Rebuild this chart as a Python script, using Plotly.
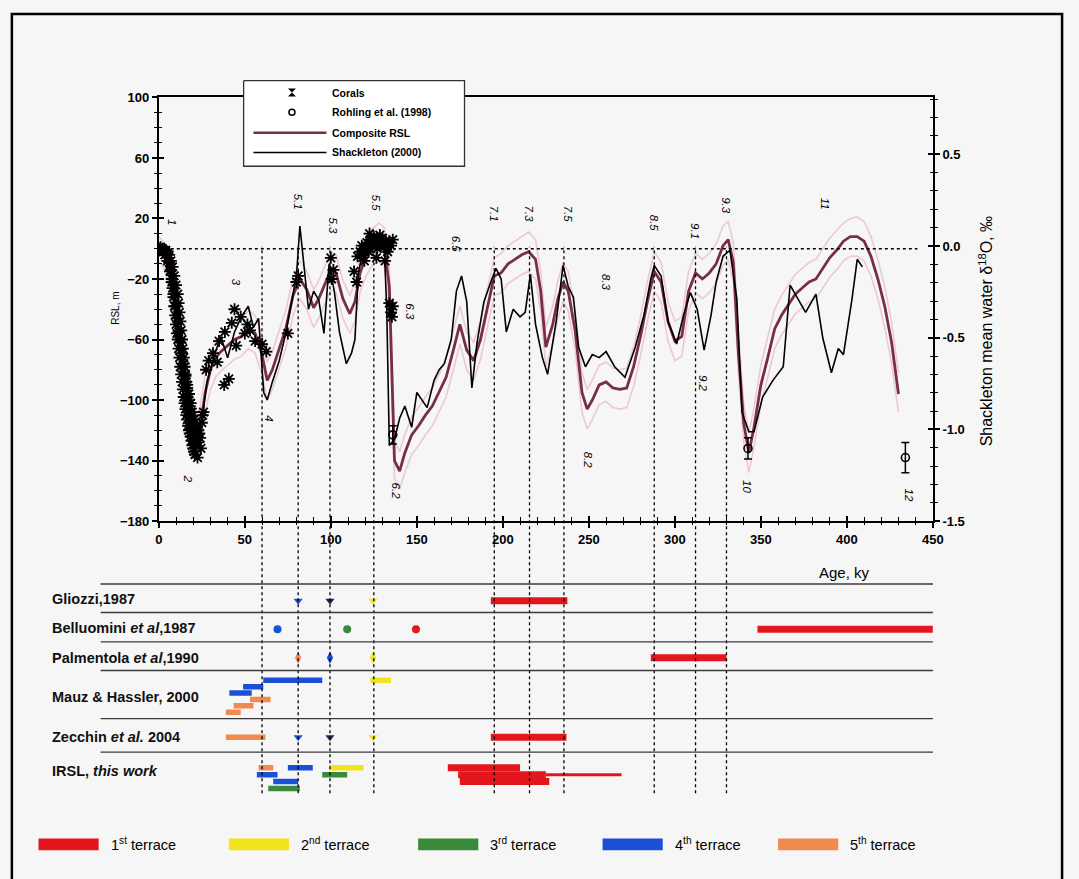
import plotly.graph_objects as go

W, H = 1079, 879
FONT = "Liberation Sans, Arial, sans-serif"


def px(x):
    return x / W


def py(y):
    return 1 - y / H


# ---------------- DATA ----------------
# Composite RSL (m) with its envelope
comp_age = [0, 3, 6, 9, 12, 15, 18, 21, 24, 27, 30, 33, 36, 40, 44, 48, 52, 56, 60, 63,
            66, 70, 74, 78, 82, 86, 90, 93, 97, 100, 103, 107, 111, 114, 117, 120, 124, 128, 131, 134,
            137, 140, 143, 147, 151, 155, 159, 163, 167, 171, 175, 179, 183, 187, 191, 195, 199, 203, 207, 211,
            215, 219, 222, 225, 229, 232, 235, 238, 242, 246, 249, 252, 256, 260, 264, 268, 272, 276, 280, 284,
            288, 292, 296, 300, 304, 308, 312, 316, 320, 324, 328, 331, 334, 337, 340, 343, 346, 350, 354, 358,
            362, 366, 370, 374, 378, 382, 386, 390, 394, 398, 402, 406, 410, 414, 418, 422, 426, 430]
comp_rsl = [0, -4, -14, -35, -60, -88, -110, -122, -118, -95, -80, -72, -68, -64, -60, -58, -53, -56, -70, -87,
            -80, -66, -52, -31, -20, -27, -39, -33, -22, -14, -16, -33, -43, -35, -16, -6, 2, 5, 2, -25,
            -140, -147, -135, -123, -117, -110, -104, -95, -85, -68, -50, -67, -74, -60, -40, -18, -16, -10, -7, -4,
            -2, -7, -28, -65, -50, -33, -22, -28, -54, -95, -106, -100, -90, -88, -92, -93, -92, -78, -58, -35,
            -15, -22, -48, -61, -58, -28, -16, -20, -16, -10, 2, 6, -9, -70, -115, -135, -118, -90, -72, -53,
            -44, -37, -30, -26, -22, -20, -13, -6, -1, 5, 8, 8, 5, -5, -20, -38, -62, -96]
comp_hi = [8, 4, -4, -24, -49, -77, -99, -111, -105, -83, -69, -61, -56, -53, -48, -46, -41, -44, -57, -75,
           -68, -54, -40, -19, -8, -15, -27, -21, -10, -2, -4, -21, -31, -23, -4, 6, 13, 17, 14, -12,
           -127, -134, -123, -111, -105, -98, -92, -83, -72, -55, -38, -55, -62, -48, -28, -6, -3, 2, 5, 8,
           11, 6, -15, -52, -38, -21, -9, -15, -41, -82, -93, -87, -77, -75, -79, -80, -79, -65, -45, -22,
           -2, -9, -35, -48, -45, -15, -3, -7, -3, 3, 15, 18, 4, -57, -102, -122, -105, -77, -59, -40,
           -31, -24, -17, -13, -9, -7, 0, 7, 12, 17, 20, 21, 18, 8, -7, -25, -49, -82]
comp_lo = [-8, -13, -25, -47, -72, -100, -122, -134, -131, -108, -93, -85, -81, -77, -73, -71, -66, -69, -83, -100,
           -93, -79, -65, -44, -33, -40, -52, -46, -35, -27, -29, -46, -56, -48, -29, -19, -11, -8, -11, -38,
           -152, -159, -148, -136, -130, -123, -117, -108, -98, -81, -63, -80, -87, -73, -53, -31, -29, -23, -20, -17,
           -15, -20, -41, -78, -63, -46, -35, -41, -67, -108, -119, -113, -103, -101, -105, -106, -105, -91, -71, -48,
           -28, -35, -61, -74, -71, -41, -29, -33, -29, -23, -11, -7, -22, -83, -128, -148, -131, -103, -85, -66,
           -57, -50, -43, -39, -35, -33, -26, -19, -14, -8, -5, -5, -8, -18, -33, -52, -76, -108]

# Shackleton (2000) mean water d18O, expressed on the RSL scale (m)
shack_age = [0, 3, 6, 9, 12, 15, 18, 20, 22, 24, 26, 28, 30, 33, 36, 40, 44, 48, 52, 55,
             58, 61, 63, 66, 70, 74, 78, 80, 82, 84, 87, 90, 93, 96, 99, 102, 105, 109, 112, 114,
             116, 118, 121, 125, 129, 131, 132.5, 134, 137, 140, 143, 147, 150, 153, 156, 160, 163, 166, 170, 173,
             176, 179, 182, 185, 189, 193, 196, 199, 202, 206, 210, 213, 216, 219, 223, 226, 231, 235, 238, 241,
             244, 248, 252, 256, 260, 265, 271, 277, 282, 286, 288, 292, 296, 301, 305, 309, 313, 317, 321, 324,
             328, 332, 336, 339, 343, 346, 351, 357, 363, 367, 370, 376, 382, 386, 391, 395, 398, 403, 406, 409]
shack_rsl = [0, -3, -10, -30, -58, -88, -115, -125, -130, -122, -105, -88, -80, -68, -58, -72, -55, -45, -38, -52,
             -46, -95, -100, -88, -74, -55, -30, -18, 15, -8, -40, -28, -34, -56, -10, -28, -55, -76, -69, -60,
             -16, -5, 0, 6, 5, 2, -40, -130, -126, -112, -104, -118, -95, -100, -105, -87, -80, -76, -60, -28,
             -18, -35, -92, -62, -35, -22, -13, -20, -55, -40, -45, -42, -17, -50, -72, -83, -48, -11, -25, -32,
             -65, -78, -70, -72, -68, -78, -85, -65, -44, -20, -11, -18, -48, -63, -44, -29, -40, -67, -44, -22,
             -5, -1, -33, -108, -121, -121, -98, -87, -78, -24, -30, -42, -30, -59, -82, -66, -70, -33, -7, -12]

# Corals
coral_age = [0.5, 1, 1.5, 2, 3, 4, 5, 5.5, 6, 7, 7.5, 8, 8.5, 9, 9.5, 10, 10.5, 11, 11.5, 12,
             12.5, 13, 13.5, 14, 14.5, 15, 15.5, 16, 16.5, 17, 17.5, 18, 18.5, 19, 19.5, 20, 20.5, 21, 21.5, 22,
             22.5, 23,
             4, 6, 7, 8, 9, 10, 11, 11.5, 12, 12.5, 13, 13.5, 14, 14.5, 15, 15.5, 16, 16.5, 17, 17.5,
             18, 18.5, 19, 19.5, 20, 20.5, 21, 22, 23, 24, 25, 26, 24.5, 22.5,
             2.5, 3.5, 5, 6.5, 7.5, 8.5, 9.5, 10.5, 11.5, 12.5, 13.5, 14.5, 15.5, 16.5, 17.5, 18.5, 19.5, 20.5,
             21.5, 23.5, 25.5,
             27.5, 31.5, 35, 38.4, 40.7, 42.4, 45, 47.6, 50, 53, 56, 60, 62.5, 44, 34, 38, 29, 51.5,
             80, 81, 75, 100, 101.5, 100.5,
             113.5, 115, 115.5, 117, 118, 119, 120, 121, 122, 123, 124, 125, 126, 127, 128, 129, 130, 131, 132, 133,
             134, 135, 136, 119.5, 126.5, 131.5, 122.5, 128.5,
             134, 135, 136, 135.5]
coral_rsl = [0, 1, -1, 0, -1, -2, -3, -6, -9, -14, -20, -26, -32, -38, -44, -50, -56, -60, -66, -72,
             -78, -83, -88, -93, -98, -102, -106, -110, -113, -117, -120, -122, -124, -127, -130, -132, -134, -136, -130, -126,
             -124, -120,
             -1, -4, -8, -12, -18, -24, -30, -36, -42, -48, -54, -60, -66, -72, -78, -84, -88, -92, -96, -100,
             -104, -108, -111, -114, -117, -120, -123, -126, -128, -125, -115, -108, -132, -138,
             -2, -4, -8, -15, -22, -30, -38, -46, -55, -62, -69, -76, -83, -90, -96, -102, -108, -113,
             -118, -122, -110,
             -80, -69, -61, -55, -86, -49, -64, -45, -56, -54, -61, -63, -68, -40, -75, -90, -74, -50,
             -22, -18, -56, -6, -14, -20,
             -15, -22, -5, -2, 2, -4, 0, 4, -2, 6, 2, 8, 4, 0, 6, 3, 7, 1, 5, -2,
             4, 2, 6, -8, -6, -8, 10, 9,
             -36, -42, -38, -45]

# Rohling et al. (1998)
rohling_age = [136, 342.5, 434]
rohling_rsl = [-123, -132, -138]
rohling_err = [6, 7, 10]

# Marine isotope stages
mis_lines = [60, 81, 99.5, 125, 195, 215.5, 235.5, 288, 312, 330]
mis_text = ["1", "2", "3", "4", "5.1", "5.3", "5.5", "6.2", "6.3", "6.5", "7.1", "7.3", "7.5",
            "8.2", "8.3", "8.5", "9.1", "9.2", "9.3", "10", "11", "12"]
mis_age = [8, 17, 45, 64, 81, 101, 126, 138, 146, 172.5, 195, 215.5, 238,
           250, 260, 288, 312, 316, 330, 341.5, 387, 436]
mis_rsl = [18, -152, -22, -112, 31, 15, 30, -160, -42, 3, 23, 23, 23,
           -140, -22, 17, 12, -89, 28.5, -157, 30, -163]

# Lower panel: terrace ages from the literature
studies = ["Gliozzi,1987", "Belluomini <i>et al</i>,1987", "Palmentola <i>et al</i>,1990",
           "Mauz & Hassler, 2000", "Zecchin <i>et al.</i> 2004", "IRSL, <i>this work</i>"]
terraces = ["1<sup>st</sup> terrace", "2<sup>nd</sup> terrace", "3<sup>rd</sup> terrace",
            "4<sup>th</sup> terrace", "5<sup>th</sup> terrace"]

bar_study = [0, 1, 2, 3, 3, 3, 3, 3, 3, 3, 4, 4, 5, 5, 5, 5, 5, 5, 5, 5, 5, 5, 5]
bar_lane = [0, 0, 0, 0, 1, 2, 3, 4, 5, 0, 0, 0, 0, 0, 0, 1, 1, 2, 3, 0, 1, 1, 2]
bar_start = [193, 348, 286, 60.7, 49, 41, 53, 43.5, 39, 123, 39, 193, 58, 75, 99, 95, 57, 66.5, 63.6, 168, 174, 225, 175]
bar_end = [237.5, 450, 330, 95, 60.7, 54, 65, 55, 47.6, 135, 62, 237, 66.5, 89.5, 119, 109.5, 69, 81, 82, 210, 225, 269, 227]
bar_terrace = [1, 1, 1, 4, 4, 4, 5, 5, 5, 2, 5, 1, 5, 4, 2, 3, 4, 4, 3, 1, 1, 1, 1]
bar_thin = [21]

mark_study = [0, 0, 0, 1, 1, 1, 2, 2, 2, 4, 4, 4]
mark_age = [81, 99.5, 124.5, 69, 109.5, 149.5, 81, 99.5, 124.5, 81, 99.5, 124.5]
mark_terrace = [4, 0, 2, 4, 3, 1, 5, 4, 2, 4, 0, 2]

# ---------------- STYLE / LAYOUT ----------------
terrace_colors = {0: "#1d2b55", 1: "#e3161e", 2: "#f2e41c", 3: "#3b8a3b", 4: "#1b4fd8", 5: "#f08a4e"}
MAROON = "#7a2e46"
ENV = "#ecc9d2"

row_base = [604, 633, 662, 685, 743, 774]
lane_step = [0, 0, 0, 6.5, 0, 7]
row_lines = [587, 616, 646, 675, 724, 758]
row_label_y = [602, 632, 662, 702, 743, 777]
mark_symbol = {0: "triangle-down", 1: "circle", 2: "diamond-tall", 4: "triangle-down"}

fig = go.Figure()

# envelope + composite + Shackleton
fig.add_trace(go.Scatter(x=comp_age, y=comp_hi, mode="lines", line=dict(color=ENV, width=1.6),
                         showlegend=False, hoverinfo="skip"))
fig.add_trace(go.Scatter(x=comp_age, y=comp_lo, mode="lines", line=dict(color=ENV, width=1.6),
                         showlegend=False, hoverinfo="skip"))
fig.add_trace(go.Scatter(x=comp_age, y=comp_rsl, mode="lines", line=dict(color=MAROON, width=2.8),
                         showlegend=False))
fig.add_trace(go.Scatter(x=shack_age, y=shack_rsl, mode="lines", line=dict(color="black", width=1.6),
                         showlegend=False))
fig.add_trace(go.Scatter(x=coral_age, y=coral_rsl, mode="markers",
                         marker=dict(symbol="asterisk-open", size=10, color="black",
                                     line=dict(color="black", width=1.8)),
                         showlegend=False))
fig.add_trace(go.Scatter(x=rohling_age, y=rohling_rsl, mode="markers",
                         marker=dict(symbol="circle-open", size=8, color="black",
                                     line=dict(color="black", width=1.6)),
                         error_y=dict(type="data", array=rohling_err, color="black", thickness=1.5, width=4),
                         showlegend=False))

# dummy traces for overlay axes
for xa, ya in [("x", "y2"), ("x3", "y"), ("x", "y4"), ("x", "y5")]:
    fig.add_trace(go.Scatter(x=[None], y=[None], xaxis=xa, yaxis=ya, showlegend=False, hoverinfo="skip"))

# lower panel bars
for i in range(len(bar_start)):
    s = bar_study[i]
    yy = row_base[s] + lane_step[s] * bar_lane[i]
    t = bar_terrace[i]
    w = 3 if i in bar_thin else (7 if t == 1 else 5.5)
    fig.add_trace(go.Scatter(x=[bar_start[i], bar_end[i]], y=[yy, yy], mode="lines",
                             line=dict(color=terrace_colors[t], width=w),
                             xaxis="x2", yaxis="y3", showlegend=False, hoverinfo="skip"))

for i in range(len(mark_age)):
    s = mark_study[i]
    fig.add_trace(go.Scatter(x=[mark_age[i]], y=[row_base[s]], mode="markers",
                             marker=dict(symbol=mark_symbol[s], size=8 if s != 2 else 9,
                                         color=terrace_colors[mark_terrace[i]]),
                             xaxis="x2", yaxis="y3", showlegend=False, hoverinfo="skip"))

# top legend (pixel overlay axes)
LX0, LX1, LY0, LY1 = 243, 467, 75, 162
fig.add_trace(go.Scatter(x=[LX0, LX1, LX1, LX0, LX0], y=[LY0, LY0, LY1, LY1, LY0], mode="lines",
                         fill="toself", fillcolor="white", line=dict(color="#333", width=1.3),
                         xaxis="x4", yaxis="y6", showlegend=False, hoverinfo="skip"))
fig.add_trace(go.Scatter(x=[292], y=[87], mode="markers",
                         marker=dict(symbol="hourglass", size=8, color="black"),
                         xaxis="x4", yaxis="y6", showlegend=False, hoverinfo="skip"))
fig.add_trace(go.Scatter(x=[292], y=[107], mode="markers",
                         marker=dict(symbol="circle-open", size=6, color="black", line=dict(width=1.5)),
                         xaxis="x4", yaxis="y6", showlegend=False, hoverinfo="skip"))
fig.add_trace(go.Scatter(x=[253, 327], y=[128, 128], mode="lines", line=dict(color=MAROON, width=2.4),
                         xaxis="x4", yaxis="y6", showlegend=False, hoverinfo="skip"))
fig.add_trace(go.Scatter(x=[253, 327], y=[148, 148], mode="lines", line=dict(color="black", width=1.5),
                         xaxis="x4", yaxis="y6", showlegend=False, hoverinfo="skip"))

shapes = []
annotations = []

# zero line
shapes.append(dict(type="line", xref="x", yref="y", x0=0, x1=441, y0=0, y1=0,
                   line=dict(color="black", width=1.5, dash="dot")))
# MIS dashed verticals spanning both panels
for a in mis_lines:
    shapes.append(dict(type="line", xref="x", yref="paper", x0=a, x1=a, y0=py(800), y1=py(244),
                       line=dict(color="black", width=1.3, dash="3px,3px")))
# lower panel row separators
for yl in row_lines:
    shapes.append(dict(type="line", xref="x2 domain", yref="y3", x0=0, x1=1, y0=yl, y1=yl,
                       line=dict(color="#3a3a3a", width=1.3)))
# outer frame
shapes.append(dict(type="rect", xref="paper", yref="paper", x0=px(8), x1=px(1073), y0=py(895), y1=py(7),
                   line=dict(color="black", width=2.5)))

# bottom legend
leg_x = [35, 228, 420, 607, 785]
for k in range(5):
    shapes.append(dict(type="rect", xref="paper", yref="paper", x0=px(leg_x[k]), x1=px(leg_x[k] + 61),
                       y0=py(858), y1=py(846), line=dict(width=0), fillcolor=terrace_colors[k + 1]))
    annotations.append(dict(text=terraces[k], x=px(leg_x[k] + 71), y=py(852), xref="paper", yref="paper",
                            xanchor="left", yanchor="middle", showarrow=False,
                            font=dict(family=FONT, size=14.5, color="black")))

# top legend texts
for txt, yy in [("Corals", 87), ("Rohling et al. (1998)", 107), ("Composite RSL", 128), ("Shackleton (2000)", 148)]:
    annotations.append(dict(text=txt, x=px(331), y=py(yy), xref="paper", yref="paper", xanchor="left",
                            yanchor="middle", showarrow=False,
                            font=dict(family=FONT, size=10.5, color="black", weight="bold")))

# MIS labels
for t, a, r in zip(mis_text, mis_age, mis_rsl):
    annotations.append(dict(text="<i>" + t + "</i>", x=a, y=r, xref="x", yref="y", showarrow=False,
                            textangle=90, font=dict(family=FONT, size=11.5, color="black")))

# study labels
for s, yy in zip(studies, row_label_y):
    annotations.append(dict(text=s, x=px(47), y=yy, xref="paper", yref="y3", xanchor="left",
                            yanchor="middle", showarrow=False,
                            font=dict(family=FONT, size=14.5, color="#111", weight="bold")))

# axis titles
annotations.append(dict(text="Age, ky", x=px(880), y=py(575), xref="paper", yref="paper", showarrow=False,
                        font=dict(family=FONT, size=15, color="black")))
annotations.append(dict(text="RSL, m", x=px(106), y=py(307), xref="paper", yref="paper", showarrow=False,
                        textangle=-90, font=dict(family=FONT, size=10, color="black")))
annotations.append(dict(text="Shackleton mean water \u03b4<sup>18</sup>O, \u2030", x=px(1008), y=py(330),
                        xref="paper", yref="paper", showarrow=False, textangle=-90,
                        font=dict(family=FONT, size=16, color="black")))

XD = [px(157), px(942)]
YD = [py(523), py(92)]
tickfont = dict(family=FONT, size=13, color="black", weight="bold")

fig.update_layout(
    width=W, height=H, margin=dict(l=0, r=0, t=0, b=0),
    paper_bgcolor="#f6f6f6", plot_bgcolor="rgba(0,0,0,0)",
    showlegend=False, shapes=shapes, annotations=annotations,
    xaxis=dict(domain=XD, range=[0, 450], anchor="y", tickvals=list(range(0, 451, 50)),
               ticks="outside", ticklen=5, tickwidth=1.5, tickcolor="black",
               minor=dict(dtick=10, tick0=0, ticks="outside", ticklen=2, tickcolor="black", tickwidth=1.2),
               showline=True, linecolor="black", linewidth=1.8, mirror=True, showgrid=False,
               zeroline=False, tickfont=tickfont),
    yaxis=dict(domain=YD, range=[-180, 100], anchor="x", tickvals=[-180, -140, -100, -60, -20, 20, 60, 100],
               ticks="outside", ticklen=5, tickwidth=1.5, tickcolor="black",
               minor=dict(dtick=10, tick0=0, ticks="outside", ticklen=3, tickcolor="black", tickwidth=1.2),
               showline=True, linecolor="black", linewidth=1.8, showgrid=False, zeroline=False,
               tickfont=tickfont),
    yaxis2=dict(overlaying="y", side="right", anchor="x", range=[-1.5, 0.81],
                tickvals=[-1.5, -1.0, -0.5, 0.0, 0.5], ticktext=["-1.5", "-1.0", "-0.5", "0.0", "0.5"],
                ticks="outside", ticklen=5, tickwidth=1.5, tickcolor="black",
                minor=dict(dtick=0.1, tick0=0, ticks="outside", ticklen=3, tickcolor="black", tickwidth=1.2),
                showline=True, linecolor="black", linewidth=1.8, showgrid=False, zeroline=False,
                tickfont=tickfont),
    xaxis3=dict(overlaying="x", anchor="y", side="bottom", range=[0, 450], tickvals=list(range(0, 451, 50)),
                ticks="inside", ticklen=5, tickwidth=1.5, tickcolor="black",
                minor=dict(dtick=10, tick0=0, ticks="inside", ticklen=4, tickcolor="black", tickwidth=1.2),
                showticklabels=False, showline=False, showgrid=False, zeroline=False),
    yaxis4=dict(overlaying="y", anchor="x", side="left", range=[-180, 100],
                tickvals=[-180, -140, -100, -60, -20, 20, 60, 100],
                ticks="inside", ticklen=5, tickwidth=1.5, tickcolor="black",
                minor=dict(dtick=10, tick0=0, ticks="inside", ticklen=3, tickcolor="black", tickwidth=1.2),
                showticklabels=False, showline=False, showgrid=False, zeroline=False),
    yaxis5=dict(overlaying="y", anchor="x", side="right", range=[-1.5, 0.81],
                tickvals=[-1.5, -1.0, -0.5, 0.0, 0.5],
                ticks="inside", ticklen=5, tickwidth=1.5, tickcolor="black",
                minor=dict(dtick=0.1, tick0=0, ticks="inside", ticklen=3, tickcolor="black", tickwidth=1.2),
                showticklabels=False, showline=False, showgrid=False, zeroline=False),
    xaxis2=dict(domain=[px(98), px(942)], range=[(98 - 157) / (785 / 450), 450], anchor="y3", visible=False),
    yaxis3=dict(domain=[py(812), py(570)], range=[812, 570], anchor="x2", visible=False),
    xaxis4=dict(domain=[0, 1], range=[0, W], anchor="y6", visible=False, fixedrange=True),
    yaxis6=dict(domain=[0, 1], range=[H, 0], anchor="x4", visible=False, fixedrange=True),
)

fig.write_html("out.html")
